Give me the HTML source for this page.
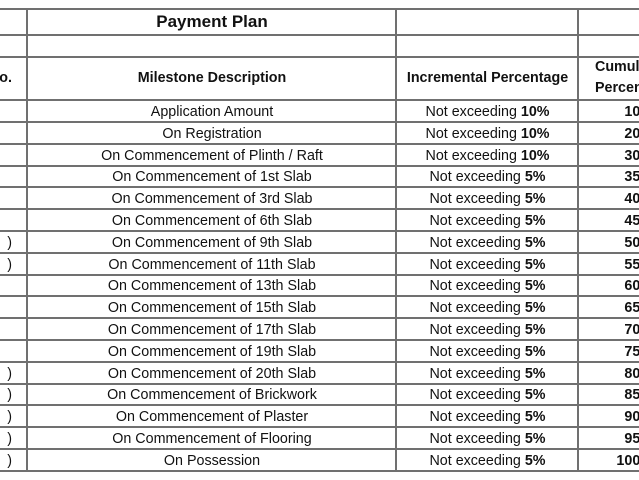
<!DOCTYPE html>
<html><head><style>
html,body{margin:0;padding:0;}
#w{width:639px;height:480px;overflow:hidden;background:#fff;position:relative;font-family:"Liberation Sans",sans-serif;color:#111;}
.h{position:absolute;left:0;width:639px;height:2px;background:#707070;}
.v{position:absolute;top:0;height:472px;width:2px;background:#707070;}
.t{position:absolute;font-size:14.3px;line-height:22px;white-space:nowrap;}
.c1{left:29px;width:366px;text-align:center;}
.c2{left:398px;width:179px;text-align:center;}
.c3{left:565px;width:88px;text-align:right;font-weight:bold;}
.c0{left:-20px;width:32px;text-align:right;}
b{font-weight:bold;}
</style></head><body><div id="w">
<div class="h" style="top:8px"></div>
<div class="h" style="top:34px"></div>
<div class="h" style="top:56px"></div>
<div class="h" style="top:99px"></div>
<div id="rows"></div>
<div class="v" style="left:26px;top:8px;height:464px"></div>
<div class="v" style="left:395px;top:8px;height:464px"></div>
<div class="v" style="left:577px;top:8px;height:464px"></div>
<div class="t" style="left:29px;width:366px;text-align:center;top:11px;font-size:17px;font-weight:bold">Payment Plan</div>
<div class="t c0" style="top:67px;font-weight:bold">o.</div>
<div class="t c1" style="top:67px;font-weight:bold">Milestone Description</div>
<div class="t c2" style="top:67px;font-weight:bold">Incremental Percentage</div>
<div class="t" style="left:595px;top:57px;font-weight:bold;line-height:21px">Cumulative<br>Percentage</div>
</div>
<script>
var d=["Application Amount","On Registration","On Commencement of Plinth / Raft","On Commencement of 1st Slab","On Commencement of 3rd Slab","On Commencement of 6th Slab","On Commencement of 9th Slab","On Commencement of 11th Slab","On Commencement of 13th Slab","On Commencement of 15th Slab","On Commencement of 17th Slab","On Commencement of 19th Slab","On Commencement of 20th Slab","On Commencement of Brickwork","On Commencement of Plaster","On Commencement of Flooring","On Possession"];
var cum=[10,20,30,35,40,45,50,55,60,65,70,75,80,85,90,95,100];
var paren={6:1,7:1,12:1,13:1,14:1,15:1,16:1};
var h="";
for(var i=0;i<17;i++){
 var y=Math.round(100+i*21.8);
 h+='<div class="h" style="top:'+(y+21)+'px"></div>';
 h+='<div class="t c1" style="top:'+(y+1)+'px">'+d[i]+'</div>';
 h+='<div class="t c2" style="top:'+(y+1)+'px">Not exceeding <b>'+(i<3?10:5)+'%</b></div>';
 h+='<div class="t c3" style="top:'+(y+1)+'px">'+cum[i]+'%</div>';
 if(paren[i])h+='<div class="t c0" style="top:'+(y+1)+'px">)</div>';
}
document.getElementById("rows").innerHTML=h;
</script>
</body></html>
